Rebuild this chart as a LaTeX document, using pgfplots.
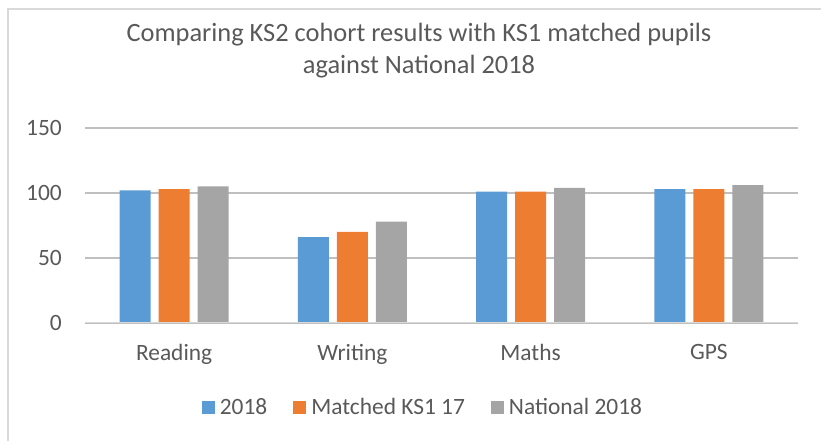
\documentclass[border=0pt]{standalone}
\usepackage{pgfplots}
\pgfplotsset{compat=1.18}
\usepackage{fontspec}
\setmainfont{Carlito}
\definecolor{cblue}{HTML}{5B9BD5}
\definecolor{corange}{HTML}{ED7D31}
\definecolor{cgray}{HTML}{A5A5A5}
\definecolor{grid}{HTML}{D9D9D9}
\definecolor{txt}{HTML}{595959}
\definecolor{frame}{HTML}{D9D9D9}
\begin{document}
\begin{tikzpicture}[x=1bp,y=1bp]
\useasboundingbox (0,0) rectangle (821,441);
\draw[frame,line width=1.5bp] (8,0) -- (8,432) -- (821,432);
\node[text=txt,font=\fontsize{26.5}{30}\selectfont] at (419,441-35) {Comparing KS2 cohort results with KS1 matched pupils};
\node[text=txt,font=\fontsize{26.5}{30}\selectfont] at (419,441-67) {against National 2018};
\begin{axis}[
  at={(85bp,118bp)}, anchor=south west,
  scale only axis, width=713bp, height=195bp,
  ybar=8bp, bar width=31bp,
  xmin=-0.5, xmax=3.5, ymin=0, ymax=150,
  xtick=data, xticklabels={Reading,Writing,Maths,GPS},
  ytick={0,50,100,150},
  axis line style={draw=none},
  major tick length=0pt,
  xmajorgrids=false, ymajorgrids=true, grid style={grid,line width=1.3bp},
  tick label style={text=txt,font=\fontsize{23.5}{27}\selectfont},
  /pgf/number format/assume math mode=true,
  yticklabel style={anchor=east,inner xsep=0pt,xshift=-23bp},
  xticklabel style={anchor=north,inner ysep=0pt,yshift=-21bp},
  legend columns=3,
  legend style={draw=none,at={(0.474,-0.431)},anchor=center,
    font=\fontsize{23.5}{27}\selectfont,text=txt,
    /tikz/every even column/.append style={column sep=24bp},
    /tikz/every odd column/.append style={column sep=3bp}},
  legend image code/.code={\fill[#1] (0bp,-6.5bp) rectangle (13bp,6.5bp);},
  every axis plot/.append style={draw=none},
]
\addplot[fill=cblue] coordinates {(0,102) (1,66) (2,101) (3,103)};
\addplot[fill=corange] coordinates {(0,103) (1,70) (2,101) (3,103)};
\addplot[fill=cgray] coordinates {(0,105) (1,78) (2,104) (3,106)};
\legend{2018,Matched KS1 17,National 2018}
\draw[grid,line width=1.3bp] (axis cs:-0.5,0) -- (axis cs:3.5,0);
\end{axis}
\end{tikzpicture}
\end{document}
